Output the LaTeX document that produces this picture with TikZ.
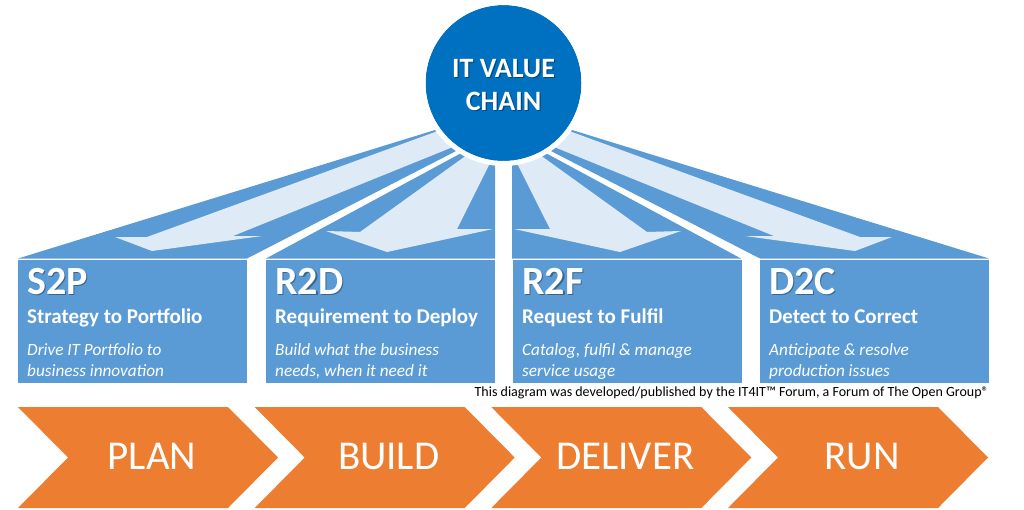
\documentclass[tikz,border=0pt]{standalone}
\usepackage{fontspec}
\setmainfont{Carlito}
\definecolor{fanblue}{HTML}{5B9BD5}
\definecolor{lightarrow}{HTML}{DEEBF7}
\definecolor{circblue}{HTML}{0070C0}
\definecolor{chevorange}{HTML}{ED7D31}
\newcommand\fanhalf{%
  % S2P region
  \fill[fanblue] (18,258.5) -- (485,114.6) -- (489.6,133.8) -- (247,258.5) -- cycle;
  \fill[lightarrow] (479,116) -- (147,237) -- (115,237) -- (152,251) -- (262,236) -- (233,236) -- (486,133.6) -- cycle;
  % R2D region
  \fill[fanblue] (266,258.5) -- (490.6,137.2) -- (495,137) -- (495,258.5) -- cycle;
  \fill[lightarrow] (493.7,135.7) -- (360,232) -- (326,231) -- (387,252) -- (493,229) -- (457,229) -- (491.6,159.9) -- cycle;
}
\tikzset{
  boxtitle/.style={anchor=base west, inner sep=0, font=\bfseries\fontsize{40}{40}\selectfont},
  boxsub/.style={anchor=base west, inner sep=0, text=white, font=\bfseries\fontsize{21}{21}\selectfont},
  boxdesc/.style={anchor=base west, inner sep=0, text=white, font=\itshape\fontsize{17.2}{17.2}\selectfont},
  boxbody/.style={fill=fanblue},
  chev/.style={fill=chevorange},
  chevtext/.style={anchor=base, inner sep=0, text=white, font=\fontsize{41}{41}\selectfont},
  circtext/.style={anchor=base, inner sep=0, font=\bfseries\fontsize{28}{28}\selectfont},
}
\begin{document}
\begin{tikzpicture}[x=1pt,y=-1pt]
\useasboundingbox (0,0) rectangle (1024,509);
% fan
\fanhalf
\begin{scope}[shift={(1007,0)}, xscale=-1]
  \fanhalf
\end{scope}
% circle
\node[circle, minimum size=156pt, inner sep=0, fill=circblue] (vc) at (503.5,83) {};
\draw[white, line width=5pt] (vc.center) circle[radius=80.5pt];
\node[circtext, text=black, opacity=.35] (vc1s) at (504.8,78.3) {IT VALUE};
\node[circtext, text=white] (vc1) at (503.5,77) {IT VALUE};
\node[circtext, text=black, opacity=.35] (vc2s) at (504.8,111.3) {CHAIN};
\node[circtext, text=white] (vc2) at (503.5,110) {CHAIN};
% boxes
\foreach \l/\t/\s/\a/\b [count=\i] in {18/S2P/Strategy to Portfolio/Drive IT Portfolio to/business innovation,
  266/R2D/Requirement to Deploy/Build what the business/{needs, when it need it},
  513/R2F/Request to Fulfil/{Catalog, fulfil \& manage}/service usage,
  760/D2C/Detect to Correct/Anticipate \& resolve/production issues}{
  \fill[boxbody] (\l,260) rectangle ++(229,123);
  \node[boxtitle, text=black, opacity=.35] (t\i s) at (\l+10.3,295.3) {\t};
  \node[boxtitle, text=white] (t\i) at (\l+9,294) {\t};
  \node[boxsub] (s\i) at (\l+9,323) {\s};
  \node[boxdesc] (a\i) at (\l+9,355) {\a};
  \node[boxdesc] (b\i) at (\l+9,376) {\b};
}
% footer
\node[anchor=base east, inner sep=0, font=\fontsize{14}{14}\selectfont] (foot) at (989,396)
  {This diagram was developed/published by the IT4IT™ Forum, a Forum of The Open Group®};
% chevrons
\foreach \l/\w [count=\i] in {18/PLAN, 254.7/BUILD, 491.3/DELIVER, 728/RUN}{
  \fill[chev] (\l,407) -- ++(210,0) -- ++(50,50.5) -- ++(-50,50.5) -- ++(-210,0) -- ++(50,-50.5) -- cycle;
  \node[chevtext] (c\i) at (\l+134,469) {\w};
}
\end{tikzpicture}
\end{document}
